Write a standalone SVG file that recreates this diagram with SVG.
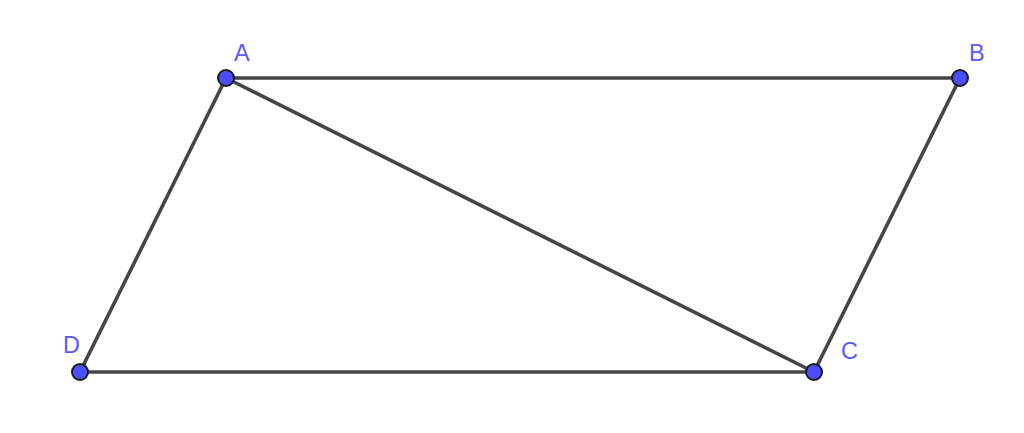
<svg xmlns="http://www.w3.org/2000/svg" width="1024" height="433" viewBox="0 0 1024 433">
<style>
.seg{stroke:#454545;stroke-width:3.6;fill:none;stroke-linecap:round}
.pt{fill:#4d4dff;stroke:#1a1a1a;stroke-width:2}
.lbl{font-family:"Liberation Sans",Arial,sans-serif;font-size:23.5px;fill:#5b5bff}
</style>
<rect width="1024" height="433" fill="#ffffff"/>
<g id="connectors">
<line class="seg" x1="226" y1="78" x2="960" y2="78"/>
<line class="seg" x1="960" y1="78" x2="814" y2="372"/>
<line class="seg" x1="814" y1="372" x2="80" y2="372"/>
<line class="seg" x1="80" y1="372" x2="226" y2="78"/>
<line class="seg" x1="226" y1="78" x2="814" y2="372"/>
</g>
<g id="A"><circle class="pt" cx="226" cy="78" r="8"/><text class="lbl" x="234" y="61">A</text></g>
<g id="B"><circle class="pt" cx="960" cy="78" r="8"/><text class="lbl" x="969" y="61">B</text></g>
<g id="C"><circle class="pt" cx="814" cy="372" r="8"/><text class="lbl" x="841" y="359">C</text></g>
<g id="D"><circle class="pt" cx="80" cy="372" r="8"/><text class="lbl" x="63" y="353">D</text></g>
</svg>
